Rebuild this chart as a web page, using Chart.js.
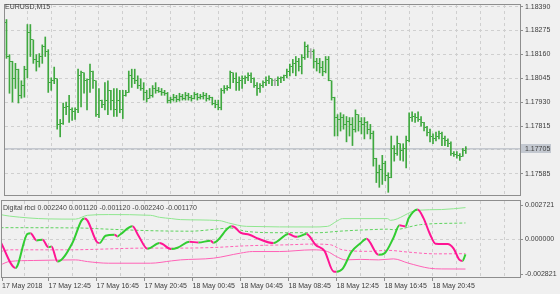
<!DOCTYPE html>
<html>
<head>
<meta charset="utf-8">
<script src="https://cdn.jsdelivr.net/npm/chart.js@4.4.0/dist/chart.umd.min.js"></script>
<style>
  html, body { margin: 0; padding: 0; background: #f0f0f0; }
  #wrap { position: relative; width: 560px; height: 294px; overflow: hidden; }
  canvas { position: absolute; left: 0; }
  #price { top: 0; }
  #rbci { top: 200px; }
</style>
</head>
<body>
<div id="wrap">
  <canvas id="price" width="560" height="200"></canvas>
  <canvas id="rbci" width="560" height="94"></canvas>
</div>
<script>
// EURUSD M15 bars, 17 May 09:00 .. 18 May 23:30
const open = [
  1.18314,1.18150,1.18127,1.18043,1.18089,1.17963,1.18010,1.18089,1.18267,1.18230,
  1.18136,1.18127,1.18150,1.18197,1.18173,1.18024,1.18033,1.18043,1.17823,1.17828,
  1.17903,1.17907,1.17893,1.17884,1.17893,1.18057,1.18071,1.18033,1.18038,1.18080,
  1.18033,1.17870,1.17940,1.17921,1.17940,1.17987,1.17940,1.17893,1.17940,1.17893,
  1.17963,1.17977,1.18057,1.18043,1.18033,1.18010,1.17996,1.17977,1.17949,1.17963,
  1.17996,1.17987,1.17982,1.17977,1.17973,1.17940,1.17945,1.17954,1.17945,1.17959,
  1.17949,1.17963,1.17954,1.17949,1.17968,1.17954,1.17959,1.17963,1.17949,1.17954,
  1.17926,1.17917,1.17903,1.17987,1.17996,1.18001,1.18071,1.18043,1.18024,1.18033,
  1.18043,1.18047,1.18057,1.18043,1.18010,1.17996,1.18010,1.18024,1.18033,1.18043,
  1.18033,1.18033,1.18043,1.18047,1.18057,1.18080,1.18103,1.18117,1.18127,1.18103,
  1.18145,1.18197,1.18173,1.18173,1.18127,1.18117,1.18099,1.18080,1.18136,1.18033,
  1.17954,1.17856,1.17847,1.17856,1.17823,1.17837,1.17823,1.17800,1.17870,1.17837,
  1.17823,1.17833,1.17800,1.17777,1.17660,1.17590,1.17604,1.17636,1.17576,1.17566,
  1.17707,1.17683,1.17730,1.17697,1.17707,1.17744,1.17856,1.17861,1.17856,1.17847,
  1.17833,1.17809,1.17786,1.17763,1.17753,1.17767,1.17777,1.17753,1.17744,1.17730,
  1.17683,1.17678,1.17674,1.17669,1.17697
]
const high = [
  1.18328,1.18159,1.18127,1.18117,1.18089,1.18033,1.18103,1.18304,1.18304,1.18230,
  1.18159,1.18164,1.18206,1.18244,1.18183,1.18047,1.18099,1.18043,1.17847,1.17926,
  1.17931,1.17963,1.17903,1.17903,1.18089,1.18080,1.18071,1.18043,1.18113,1.18080,
  1.18033,1.17996,1.17940,1.18024,1.18033,1.17987,1.17996,1.17996,1.17987,1.17987,
  1.17987,1.18080,1.18089,1.18089,1.18057,1.18043,1.18024,1.17987,1.17996,1.18010,
  1.18024,1.18001,1.17996,1.17987,1.17977,1.17954,1.17968,1.17963,1.17973,1.17968,
  1.17977,1.17973,1.17963,1.17977,1.17973,1.17968,1.17977,1.17973,1.17963,1.17954,
  1.17940,1.17940,1.17996,1.18010,1.18010,1.18080,1.18071,1.18071,1.18052,1.18057,
  1.18057,1.18071,1.18071,1.18047,1.18024,1.18019,1.18033,1.18052,1.18057,1.18043,
  1.18043,1.18052,1.18052,1.18061,1.18089,1.18113,1.18136,1.18150,1.18141,1.18159,
  1.18220,1.18206,1.18188,1.18183,1.18141,1.18141,1.18127,1.18150,1.18150,1.18033,
  1.17954,1.17870,1.17879,1.17870,1.17861,1.17856,1.17856,1.17893,1.17870,1.17856,
  1.17856,1.17837,1.17823,1.17791,1.17660,1.17627,1.17674,1.17646,1.17590,1.17767,
  1.17721,1.17767,1.17730,1.17730,1.17767,1.17879,1.17884,1.17875,1.17884,1.17861,
  1.17833,1.17814,1.17800,1.17777,1.17786,1.17791,1.17786,1.17767,1.17753,1.17739,
  1.17692,1.17692,1.17683,1.17707,1.17716
]
const low = [
  1.18141,1.17973,1.17931,1.17996,1.17926,1.17949,1.17954,1.18047,1.18150,1.18117,
  1.18080,1.18099,1.18117,1.18150,1.17977,1.17987,1.18019,1.17800,1.17763,1.17823,
  1.17870,1.17833,1.17842,1.17847,1.17879,1.17907,1.17973,1.17893,1.17977,1.17996,
  1.17861,1.17856,1.17903,1.17893,1.17870,1.17893,1.17861,1.17861,1.17879,1.17851,
  1.17959,1.17977,1.18001,1.18019,1.17996,1.17987,1.17940,1.17931,1.17949,1.17954,
  1.17973,1.17977,1.17963,1.17963,1.17926,1.17926,1.17935,1.17931,1.17935,1.17940,
  1.17940,1.17940,1.17935,1.17945,1.17940,1.17945,1.17945,1.17935,1.17940,1.17917,
  1.17903,1.17893,1.17893,1.17973,1.17987,1.17996,1.18024,1.17987,1.17987,1.17996,
  1.18019,1.18033,1.18024,1.18001,1.17963,1.17977,1.18001,1.18010,1.18019,1.18010,
  1.18010,1.18010,1.18024,1.18033,1.18047,1.18057,1.18071,1.18057,1.18080,1.18066,
  1.18136,1.18145,1.18141,1.18094,1.18080,1.18071,1.18057,1.18071,1.18033,1.17940,
  1.17767,1.17767,1.17791,1.17800,1.17739,1.17767,1.17721,1.17786,1.17791,1.17777,
  1.17753,1.17777,1.17753,1.17622,1.17543,1.17520,1.17534,1.17552,1.17496,1.17566,
  1.17646,1.17674,1.17650,1.17646,1.17613,1.17739,1.17837,1.17833,1.17837,1.17814,
  1.17791,1.17767,1.17739,1.17730,1.17744,1.17753,1.17721,1.17721,1.17716,1.17674,
  1.17669,1.17660,1.17650,1.17669,1.17683
]
const close = [
  1.18150,1.18127,1.18043,1.18089,1.17963,1.18010,1.18089,1.18267,1.18230,1.18136,
  1.18127,1.18150,1.18197,1.18173,1.18024,1.18033,1.18043,1.17823,1.17828,1.17903,
  1.17907,1.17893,1.17884,1.17893,1.18057,1.18071,1.18033,1.18038,1.18080,1.18033,
  1.17870,1.17940,1.17921,1.17940,1.17987,1.17940,1.17893,1.17940,1.17893,1.17963,
  1.17977,1.18057,1.18043,1.18033,1.18010,1.17996,1.17977,1.17949,1.17963,1.17996,
  1.17987,1.17982,1.17977,1.17973,1.17940,1.17945,1.17954,1.17945,1.17959,1.17949,
  1.17963,1.17954,1.17949,1.17968,1.17954,1.17959,1.17963,1.17949,1.17954,1.17926,
  1.17917,1.17903,1.17987,1.17996,1.18001,1.18071,1.18043,1.18024,1.18033,1.18043,
  1.18047,1.18057,1.18043,1.18010,1.17996,1.18010,1.18024,1.18033,1.18043,1.18033,
  1.18033,1.18043,1.18047,1.18057,1.18080,1.18103,1.18117,1.18127,1.18103,1.18145,
  1.18197,1.18173,1.18173,1.18127,1.18117,1.18099,1.18080,1.18136,1.18033,1.17954,
  1.17856,1.17847,1.17856,1.17823,1.17837,1.17823,1.17800,1.17870,1.17837,1.17823,
  1.17833,1.17800,1.17777,1.17660,1.17590,1.17604,1.17636,1.17576,1.17566,1.17707,
  1.17683,1.17730,1.17697,1.17707,1.17744,1.17856,1.17861,1.17856,1.17847,1.17833,
  1.17809,1.17786,1.17763,1.17753,1.17767,1.17777,1.17753,1.17744,1.17730,1.17683,
  1.17678,1.17674,1.17669,1.17697,1.17705
]

const priceTicks = [1.18390, 1.18275, 1.18160, 1.18045, 1.17930, 1.17815, 1.17700, 1.17585]
const gridIdx = [7, 15, 23, 31, 39, 47, 55, 63, 71, 79, 87, 95, 103, 111, 119, 127, 135, 143, 151, 159, 167]
const timeIdx = [-1, 15, 31, 47, 63, 79, 95, 111, 127, 143]
const timeLabels = ["17 May 2018", "17 May 12:45", "17 May 16:45", "17 May 20:45", "18 May 00:45",
  "18 May 04:45", "18 May 08:45", "18 May 12:45", "18 May 16:45", "18 May 20:45"]
const rbciTicks = [0.002721, 0, -0.002821]

// Digital rbci, sampled at bar indexes
const mainIdx = [-1, 4, 8, 9, 11, 13, 15, 16, 18, 23, 26, 27, 28, 31, 32, 34, 37, 38, 39, 43, 45, 48, 52, 56, 58,
  62, 65, 69, 70, 76, 77, 79, 82, 85, 90, 95, 97, 98, 101, 102, 104, 107, 110, 111, 113, 116, 119, 121, 125,
  127, 130, 132, 134, 135, 138, 140, 142, 144, 148, 150, 152, 153, 154]
const mainVal = [-0.000252, -0.002160, 0.000330, 0.000370, -0.000156, -0.000105, -0.000655, -0.000596, -0.001698,
  -0.000325, 0.001290, 0.001437, 0.001290, -0.000229, -0.000347, 0.000189, 0.000262, 0.000138, 0.000299, 0.000871,
  0.000189, -0.000765, -0.000347, -0.000787, -0.000692, -0.000252, -0.000303, -0.000178, -0.000325, 0.000871,
  0.000812, 0.000409, 0.000262, -0.000031, -0.000347, 0.000314, 0.000138, 0.000116, 0.000314, 0.000152, -0.000472,
  -0.000912, -0.002417, -0.002432, -0.002233, -0.000986, -0.000362, -0.000031, -0.001206, -0.001096, 0.000042,
  0.000944, 0.000871, 0.001437, 0.002097, 0.001473, 0.000387, -0.000398, -0.000420, -0.000729, -0.001573,
  -0.001646, -0.001170]
const upIdx = [-1, 2, 15, 24, 28, 35, 49, 52, 56, 59, 72, 75, 81, 103, 108, 111, 113, 128, 129, 138, 146, 154]
const upVal = [0.001730, 0.001620, 0.001415, 0.001400, 0.001679, 0.001730, 0.001679, 0.001532, 0.001437, 0.001363,
  0.001290, 0.001121, 0.000871, 0.000827, 0.000871, 0.001238, 0.001437, 0.001437, 0.001312, 0.002046, 0.002097, 0.002240]
const upMidIdx = [-1, 25, 35, 49, 62, 76, 81, 92, 105, 112, 122, 128, 130, 139, 154]
const upMidVal = [0.000776, 0.000754, 0.000666, 0.000556, 0.000519, 0.000739, 0.000504, 0.000409, 0.000409,
  0.000519, 0.000629, 0.000666, 0.000629, 0.000996, 0.001120]
const loMidIdx = [-1, 2, 21, 48, 59, 70, 81, 95, 103, 109, 113, 122, 128, 135, 144, 154]
const loMidVal = [-0.000964, -0.000839, -0.000839, -0.000714, -0.000714, -0.000670, -0.000545, -0.000472, -0.000420,
  -0.000472, -0.000839, -0.000949, -0.000876, -0.001008, -0.001132, -0.001120]
const loIdx = [-1, 2, 10, 24, 28, 35, 49, 56, 59, 70, 79, 83, 92, 103, 108, 111, 114, 119, 125, 130, 135, 142, 146, 154]
const loVal = [-0.001940, -0.001690, -0.001617, -0.001573, -0.001698, -0.001815, -0.001815, -0.001646, -0.001573,
  -0.001448, -0.001081, -0.000964, -0.000964, -0.000839, -0.000964, -0.001331, -0.001573, -0.001536, -0.001573,
  -0.001499, -0.001815, -0.002182, -0.002233, -0.002240]

const GREEN = "#3fa83f"
const DOJI = "#a8a8a8"
const gridColor = "#cfcfcf"
const frameColor = "#8e8e8e"
const textColor = "#3c3c3c"
const font = { family: "Liberation Sans", size: 7 }
const X_MIN = -0.5
const X_MAX = 172.17

// 3x1 images: open tick on the left, close tick on the right
function tickMark(color, left) {
  const c = document.createElement("canvas")
  c.width = 3
  c.height = 1
  const g = c.getContext("2d")
  g.fillStyle = color
  g.fillRect(left ? 0 : 2, 0, 1, 1)
  return c
}
const marks = {
  open: { [GREEN]: tickMark(GREEN, true), [DOJI]: tickMark(DOJI, true) },
  close: { [GREEN]: tickMark(GREEN, false), [DOJI]: tickMark(DOJI, false) },
}
const barColor = close.map((c, i) => (c === open[i] ? DOJI : GREEN))
const last = close[close.length - 1]
const pts = (idx, val) => idx.map((x, i) => ({ x, y: val[i] }))

// panel frame + caption
const frame = {
  id: "frame",
  afterDraw(chart, args, opts) {
    const { ctx, chartArea: a } = chart
    ctx.save()
    ctx.strokeStyle = frameColor
    ctx.lineWidth = 1
    ctx.strokeRect(a.left - 0.5, a.top - 0.5, a.right - a.left + 1, a.bottom - a.top + 1)
    ctx.fillStyle = "#444"
    ctx.font = '7px "Liberation Sans"'
    ctx.textBaseline = "middle"
    ctx.fillText(opts.caption, opts.x, opts.y)
    ctx.restore()
  },
}

const bidBox = {
  id: "bidBox",
  afterDraw(chart) {
    const { ctx, chartArea: a } = chart
    const py = Math.round(chart.scales.y.getPixelForValue(last))
    ctx.save()
    ctx.fillStyle = "#c3c8d0"
    ctx.fillRect(a.right + 1, py - 5, 30, 9)
    ctx.fillStyle = "#404040"
    ctx.font = '7px "Liberation Sans"'
    ctx.textBaseline = "middle"
    ctx.fillText(last.toFixed(5), a.right + 5, py)
    ctx.restore()
  },
}

const gridX = {
  type: "linear",
  min: X_MIN,
  max: X_MAX,
  offset: false,
  grid: { color: gridColor, drawTicks: false, offset: false },
  border: { display: false, dash: [3, 3] },
  ticks: { display: false },
  afterBuildTicks: (s) => { s.ticks = gridIdx.map((v) => ({ value: v })) },
  afterFit: (s) => { s.height = 0; s.paddingLeft = 0; s.paddingRight = 0 },
}

new Chart(document.getElementById("price"), {
  type: "line",
  data: {
    datasets: [
      {
        label: "Open",
        data: pts(open.map((v, i) => i), open),
        showLine: false,
        pointRadius: 1,
        pointStyle: barColor.map((c) => marks.open[c]),
      },
      {
        label: "Close",
        data: pts(close.map((v, i) => i), close),
        showLine: false,
        pointRadius: 1,
        pointStyle: barColor.map((c) => marks.close[c]),
      },
      {
        type: "bar",
        label: "Range",
        data: high.map((h, i) => ({ x: i, y: [low[i], h] })),
        backgroundColor: barColor,
        borderWidth: 0,
        barThickness: 1,
      },
      {
        label: "Bid",
        data: [{ x: X_MIN, y: last }, { x: X_MAX, y: last }],
        borderColor: "#a9b0bb",
        borderWidth: 1,
        pointRadius: 0,
      },
    ],
  },
  options: {
    responsive: false,
    animation: false,
    events: [],
    layout: { padding: { top: 2, left: 2, right: 0, bottom: 2 } },
    plugins: {
      legend: { display: false },
      tooltip: { enabled: false },
      frame: { caption: "EURUSD,M15", x: 5, y: 7 },
    },
    scales: {
      x: gridX,
      y: {
        type: "linear",
        position: "right",
        min: 1.17483,
        max: 1.18398,
        grid: { color: gridColor, tickColor: frameColor, tickLength: 3 },
        border: { display: false, dash: [3, 3] },
        ticks: { font, color: textColor, padding: 2, callback: (v) => v.toFixed(5) },
        afterBuildTicks: (s) => { s.ticks = priceTicks.map((v) => ({ value: v })) },
        afterFit: (s) => { s.width = 40; s.paddingTop = 0; s.paddingBottom = 0 },
      },
    },
  },
  plugins: [frame, bidBox],
})

// Digital rbci window
const UP = "#32cd32"
const DOWN = "#ff1493"
const band = (label, idx, val, color, dash) => ({
  label,
  data: pts(idx, val),
  borderColor: color,
  borderWidth: 1,
  borderDash: dash,
  pointRadius: 0,
  cubicInterpolationMode: "monotone",
  clip: 0,
})
const caption = "Digital rbci " + [upVal, upMidVal, loMidVal, loVal, mainVal]
  .map((a) => a[a.length - 1].toFixed(6)).join(" ")

new Chart(document.getElementById("rbci"), {
  type: "line",
  data: {
    datasets: [
      {
        label: "rbci",
        data: pts(mainIdx, mainVal),
        borderColor: UP,
        borderWidth: 2,
        pointRadius: 0,
        cubicInterpolationMode: "monotone",
        clip: 0,
        segment: { borderColor: (c) => (c.p1.parsed.y >= c.p0.parsed.y ? UP : DOWN) },
      },
      band("upper", upIdx, upVal, "#8fe68f", []),
      band("upper mid", upMidIdx, upMidVal, "#5fd35f", [3, 2]),
      band("lower mid", loMidIdx, loMidVal, "#ff62b6", [3, 2]),
      band("lower", loIdx, loVal, "#ff62b6", []),
    ],
  },
  options: {
    responsive: false,
    animation: false,
    events: [],
    layout: { padding: { top: 1, left: 2, right: 0, bottom: 0 } },
    plugins: {
      legend: { display: false },
      tooltip: { enabled: false },
      frame: { caption, x: 3, y: 8 },
    },
    scales: {
      x: gridX,
      xl: {
        type: "linear",
        position: "bottom",
        min: X_MIN,
        max: X_MAX,
        offset: false,
        grid: { drawOnChartArea: false, tickLength: 4, color: frameColor, tickColor: frameColor, offset: false },
        border: { display: false },
        ticks: {
          font, color: textColor, align: "start", padding: 1, maxRotation: 0, autoSkip: false,
          callback: (v, i) => timeLabels[i],
        },
        afterBuildTicks: (s) => { s.ticks = timeIdx.map((v) => ({ value: Math.max(v, X_MIN) })) },
        afterFit: (s) => { s.height = 17; s.paddingLeft = 0; s.paddingRight = 0 },
      },
      y: { type: "linear", display: false, min: -0.002821, max: 0.002721 },
      yl: {
        type: "linear",
        position: "right",
        min: -0.00306,
        max: 0.00307,
        grid: {
          color: (c) => (c.tick && c.tick.value === 0 ? gridColor : "rgba(0,0,0,0)"),
          tickColor: frameColor,
          tickLength: 3,
        },
        border: { display: false, dash: [3, 3] },
        ticks: { font, color: textColor, padding: 2, callback: (v) => v.toFixed(6) },
        afterBuildTicks: (s) => { s.ticks = rbciTicks.map((v) => ({ value: v })) },
        afterFit: (s) => { s.width = 40; s.paddingTop = 0; s.paddingBottom = 0 },
      },
    },
  },
  plugins: [frame],
})
</script>
</body>
</html>
